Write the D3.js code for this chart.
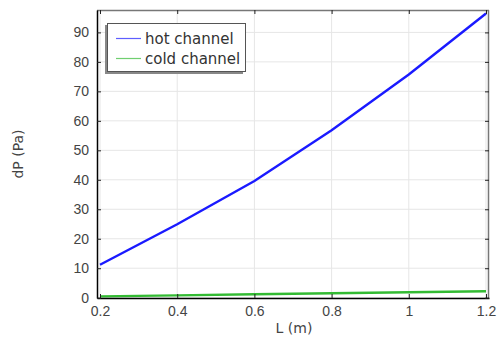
<!DOCTYPE html>
<html>
<head>
<meta charset="utf-8">
<script src="https://cdn.jsdelivr.net/npm/d3@7"></script>
<style>
  body { margin: 0; background: #fff; }
  svg { display: block; font-family: "DejaVu Sans", sans-serif; }
  .tick text { fill: #444; font-size: 14px; }
</style>
</head>
<body>
<svg width="497" height="337"></svg>
<script>
const lengths = [0.2, 0.4, 0.6, 0.8, 1.0, 1.2];
const hotDp = [11.2, 24.9, 39.6, 56.8, 75.7, 96.4];
const coldDp = [0.45, 0.8, 1.15, 1.5, 1.85, 2.2];
const xTicks = [0.2, 0.4, 0.6, 0.8, 1, 1.2];
const yTicks = [0, 10, 20, 30, 40, 50, 60, 70, 80, 90];
const seriesNames = ['hot channel', 'cold channel'];
const seriesColors = ['#1a1aff', '#33bb33'];

const plotLeft = 97, plotRight = 489, plotTop = 10, plotBottom = 298;
const width = plotRight - plotLeft;
const height = plotBottom - plotTop;

const svg = d3.select('svg');
const chart = svg.append('g').attr('transform', `translate(${plotLeft}, ${plotTop})`);

const xScale = d3.scaleLinear().domain([0.1922, 1.2078]).range([0, width]);
const yScale = d3.scaleLinear().domain([-0.1, 97.6]).range([height, 0]);

// grid
chart.append('g')
    .selectAll('line')
    .data(xTicks)
    .enter()
    .append('line')
    .attr('x1', d => xScale(d)).attr('x2', d => xScale(d))
    .attr('y1', 0).attr('y2', height)
    .attr('stroke', '#e6e6e6');
chart.append('g')
    .selectAll('line')
    .data(yTicks)
    .enter()
    .append('line')
    .attr('x1', 0).attr('x2', width)
    .attr('y1', d => yScale(d)).attr('y2', d => yScale(d))
    .attr('stroke', '#e6e6e6');

// lines
const series = [hotDp, coldDp];
const line = d3.line()
    .x((d, i) => xScale(lengths[i]))
    .y(d => yScale(d));
series.forEach((vals, i) => {
    chart.append('path')
        .datum(vals)
        .attr('fill', 'none')
        .attr('stroke', seriesColors[i])
        .attr('stroke-width', 2.4)
        .attr('d', line);
});

// frame: top/right gray, left/bottom black
chart.append('line').attr('x1', 0).attr('x2', width).attr('y1', 0.5).attr('y2', 0.5)
    .attr('stroke', '#777').attr('stroke-width', 1.5);
chart.append('line').attr('x1', width - 0.5).attr('x2', width - 0.5).attr('y1', 0).attr('y2', height)
    .attr('stroke', '#777').attr('stroke-width', 1.5);

// axes with inside ticks
const xAxis = chart.append('g')
    .attr('transform', `translate(0, ${height})`)
    .call(d3.axisBottom(xScale).tickValues(xTicks).tickSize(-4).tickPadding(8).tickSizeOuter(0)
        .tickFormat(d3.format('~g')));
const yAxis = chart.append('g')
    .call(d3.axisLeft(yScale).tickValues(yTicks).tickSize(-4).tickPadding(8).tickSizeOuter(0));
chart.append('g')
    .call(d3.axisTop(xScale).tickValues(xTicks).tickSize(-4).tickFormat('').tickSizeOuter(0))
    .select('.domain').remove();
chart.append('g')
    .attr('transform', `translate(${width}, 0)`)
    .call(d3.axisRight(yScale).tickValues(yTicks).tickSize(-4).tickFormat('').tickSizeOuter(0))
    .select('.domain').remove();
[xAxis, yAxis].forEach(a => a.select('.domain').attr('stroke', '#000').attr('stroke-width', 1.5));
chart.selectAll('.tick line').attr('stroke', '#222');

// legend
const legend = chart.append('g').attr('transform', 'translate(10, 13)');
legend.append('rect')
    .attr('x', -2).attr('y', 2).attr('width', 138).attr('height', 49)
    .attr('fill', '#888');
legend.append('rect')
    .attr('x', 0.5).attr('y', 0.5).attr('width', 138).attr('height', 48)
    .attr('fill', '#fff').attr('stroke', '#555');
seriesNames.forEach((name, i) => {
    const y = 15.5 + i * 20;
    legend.append('line')
        .attr('x1', 9).attr('x2', 34).attr('y1', y).attr('y2', y)
        .attr('stroke', seriesColors[i]).attr('stroke-width', 1.2).attr('stroke-opacity', 0.7);
    legend.append('text')
        .attr('x', 38).attr('y', y + 5.5)
        .attr('font-size', 15).attr('fill', '#333')
        .text(name);
});

// axis labels
svg.append('text')
    .attr('transform', 'translate(23, 154) rotate(-90)')
    .attr('text-anchor', 'middle')
    .attr('font-size', 14).attr('fill', '#444')
    .text('dP (Pa)');
svg.append('text')
    .attr('x', 294).attr('y', 333)
    .attr('text-anchor', 'middle')
    .attr('font-size', 14).attr('fill', '#444')
    .text('L (m)');
</script>
</body>
</html>
